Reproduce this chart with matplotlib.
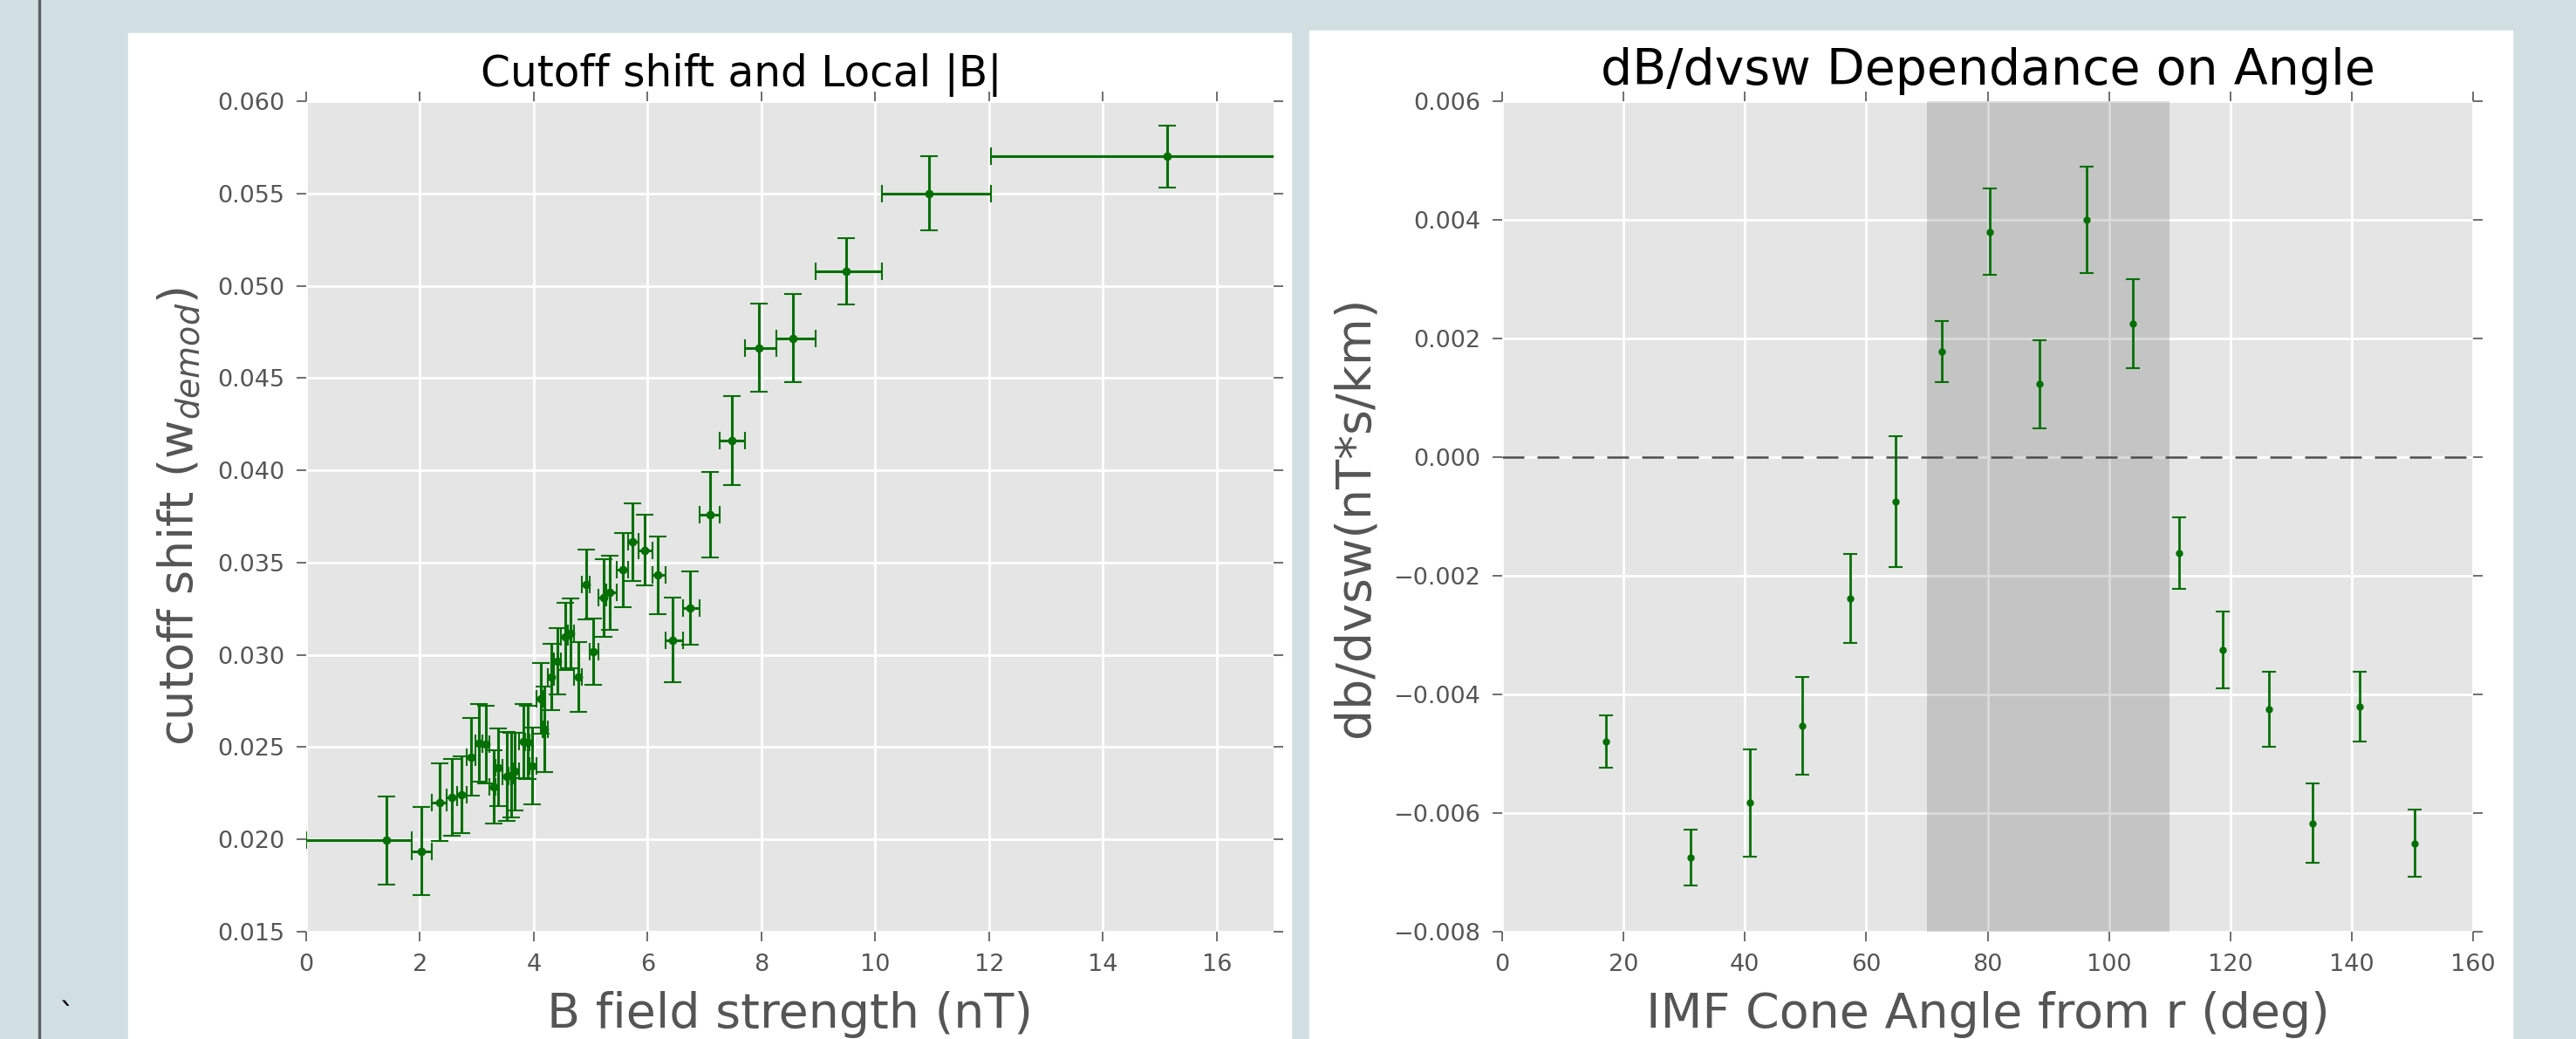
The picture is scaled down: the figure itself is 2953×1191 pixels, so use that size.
import numpy as np
import matplotlib
matplotlib.use("Agg")
import matplotlib.pyplot as plt
from matplotlib.patches import Rectangle
from matplotlib.lines import Line2D

# binned cutoff shift vs local |B| (bin edges give the horizontal bars)
b_field = [1.41, 2.03, 2.34, 2.56, 2.73, 2.90, 3.04, 3.16, 3.29, 3.37,
           3.52, 3.60, 3.67, 3.81, 3.89, 3.97, 4.12, 4.19, 4.31, 4.42,
           4.55, 4.64, 4.78, 4.92, 5.05, 5.22, 5.34, 5.56, 5.73, 5.95,
           6.18, 6.44, 6.74, 7.09, 7.48, 7.96, 8.56, 9.49, 10.95, 15.13]
b_edges = [0.0, 1.85, 2.21, 2.47, 2.65, 2.82, 2.97, 3.10, 3.22, 3.33,
           3.45, 3.56, 3.64, 3.74, 3.85, 3.93, 4.05, 4.16, 4.25, 4.36,
           4.48, 4.60, 4.70, 4.85, 4.98, 5.13, 5.28, 5.45, 5.65, 5.84,
           6.08, 6.31, 6.62, 6.92, 7.26, 7.71, 8.26, 8.95, 10.12, 12.04, 20.0]
cutoff_shift = [0.01995, 0.01937, 0.02200, 0.02228, 0.02242, 0.02446, 0.02523, 0.02515, 0.02285, 0.02390,
                0.02342, 0.02348, 0.02368, 0.02532, 0.02526, 0.02398, 0.02764, 0.02596, 0.02880, 0.02966,
                0.03100, 0.03118, 0.02880, 0.03381, 0.03017, 0.03310, 0.03337, 0.03460, 0.03611, 0.03568,
                0.03432, 0.03080, 0.03254, 0.03759, 0.04160, 0.04664, 0.04716, 0.05080, 0.05500, 0.05700]
cutoff_err = [0.0024, 0.0024, 0.0021, 0.0021, 0.0021, 0.0021, 0.0021, 0.0021, 0.0020, 0.0021,
              0.0024, 0.0023, 0.0021, 0.0020, 0.0020, 0.0021, 0.0019, 0.0023, 0.0018, 0.0018,
              0.0018, 0.0019, 0.0019, 0.0019, 0.0018, 0.0021, 0.0020, 0.0020, 0.0021, 0.0019,
              0.0021, 0.0023, 0.0020, 0.0023, 0.0024, 0.0024, 0.0024, 0.0018, 0.0020, 0.0017]

# dB/dvsw slope per cone angle bin
cone_angle = [17.1, 31.1, 40.8, 49.5, 57.3, 64.8, 72.4, 80.3, 88.5,
              96.3, 104.0, 111.5, 118.8, 126.3, 133.5, 141.3, 150.3]
dbdv = [-0.00479, -0.00675, -0.00583, -0.00453, -0.00238, -0.00075, 0.00178, 0.00380, 0.00123,
        0.00400, 0.00225, -0.00162, -0.00325, -0.00425, -0.00617, -0.00421, -0.00651]
dbdv_err = [0.00044, 0.00047, 0.00090, 0.00082, 0.00075, 0.00111, 0.00052, 0.00073, 0.00074,
            0.00089, 0.00075, 0.00060, 0.00065, 0.00063, 0.00067, 0.00059, 0.00057]
perp_lo, perp_hi = 70, 110

W, H = 2953.0, 1191.0
GRAY = '#555555'
GREEN = '#047004'

x = np.array(b_field)
edges = np.array(b_edges)
xerr = [x - edges[:-1], edges[1:] - x]

fig = plt.figure(figsize=(W / 100, H / 100), dpi=100, facecolor='#d1dfe3')

# white panels behind each plot
fig.add_artist(Rectangle((147 / W, 0), (1480 - 147) / W, (H - 38) / H,
                         transform=fig.transFigure, color='white', zorder=0))
fig.add_artist(Rectangle((1501 / W, 0), (2880 - 1501) / W, (H - 35) / H,
                         transform=fig.transFigure, color='white', zorder=0))
fig.add_artist(Line2D([45 / W, 45 / W], [0, 1], transform=fig.transFigure,
                      color='#5f5f5f', lw=2.4))
fig.text(77 / W, 1 - 1148 / H, '`', fontsize=26, color='black', ha='center', va='top')


def style(ax):
    ax.set_facecolor('#e5e5e5')
    for s in ax.spines.values():
        s.set_visible(False)
    ax.grid(True, color='white', lw=2)
    ax.set_axisbelow(True)
    ax.tick_params(direction='out', length=8, width=1.2, color=GRAY, labelcolor=GRAY,
                   labelsize=19.5, pad=10, top=True, right=True)


bottom = 1 - 1068 / H
height = (1068 - 116) / H

ax1 = fig.add_axes([351 / W, bottom, (1460 - 351) / W, height])
style(ax1)
ax1.errorbar(x, cutoff_shift, xerr=xerr, yerr=cutoff_err, fmt='o', color=GREEN,
             ms=6, elinewidth=2.2, capsize=7, capthick=1.5)
ax1.set_xlim(0, 17)
ax1.set_ylim(0.015, 0.060)
ax1.set_xticks(range(0, 17, 2))
ax1.set_yticks(np.arange(0.015, 0.0601, 0.005))
ax1.set_title('Cutoff shift and Local |B|', fontsize=35, x=0.45, pad=12)
ax1.set_xlabel('B field strength (nT)', fontsize=40, color=GRAY, labelpad=12)
ax1.set_ylabel('cutoff shift (w$_{demod}$)', fontsize=39, color=GRAY, labelpad=12)

ax2 = fig.add_axes([1722 / W, bottom, (2835 - 1722) / W, height])
style(ax2)
ax2.axvspan(perp_lo, perp_hi, color='k', alpha=0.14, lw=0)
ax2.axhline(0, color='#4a4a4a', ls=(0, (10, 6)), lw=1.8)
ax2.errorbar(cone_angle, dbdv, yerr=dbdv_err, fmt='o', color=GREEN,
             ms=5, elinewidth=2, capsize=6, capthick=1.5)
ax2.set_xlim(0, 160)
ax2.set_ylim(-0.008, 0.006)
ax2.set_xticks(range(0, 161, 20))
ax2.set_yticks(np.arange(-0.008, 0.0061, 0.002))
ax2.set_title('dB/dvsw Dependance on Angle', fontsize=41, pad=14)
ax2.set_xlabel('IMF Cone Angle from r (deg)', fontsize=40, color=GRAY, labelpad=12)
ax2.set_ylabel('db/dvsw(nT*s/km)', fontsize=40, color=GRAY, labelpad=12)

fig.savefig('out.png', dpi=100, facecolor=fig.get_facecolor())
